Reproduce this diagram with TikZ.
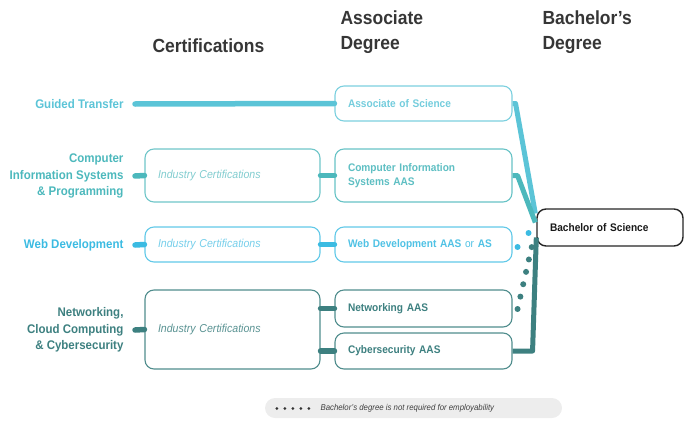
\documentclass[tikz,border=0pt]{standalone}
\usepackage{fontspec}
\setmainfont{Liberation Sans}[FakeStretch=0.92]
\usepackage{tikz}
\usetikzlibrary{calc}
\definecolor{headgray}{HTML}{363636}
\definecolor{gtblue}{HTML}{5BC4D7}
\definecolor{cisteal}{HTML}{4CB8BC}
\definecolor{webblue}{HTML}{3BBBE2}
\definecolor{netteal}{HTML}{3D8080}

\begin{document}
\begin{tikzpicture}[x=1pt, y=-1pt,
  head/.style={anchor=west, align=left, text=headgray, font=\bfseries\fontsize{19}{25}\selectfont},
  lab/.style={anchor=east, align=right, font=\bfseries\fontsize{12.5}{16.5}\selectfont},
  box/.style={draw, line width=1.1pt, rounded corners=9pt, fill=white, text width=151pt, inner xsep=13pt, align=left, font=\bfseries\fontsize{11}{14}\selectfont},
  cert/.style={box, text width=149pt, font=\itshape\fontsize{11.5}{14}\selectfont},
  link/.style={line width=5.5pt, line cap=round, line join=round},
  joint/.style={line width=5pt, line join=round},
  dots/.style={line width=6pt, line cap=round, dash pattern=on 0pt off 12.7pt}]
\useasboundingbox (0,0) rectangle (684,420);

% column heads
\node[head] (certhead) at (149,46) {Certifications};
\node[head] (assochead) at (337,32.5) {Associate\\Degree};
\node[head] (bachhead) at (539,32.5) {Bachelor's\\Degree};

% pathways
\node[lab, text=gtblue] (gt) at (127,104) {Guided Transfer};
\node[lab, text=cisteal] (cis) at (127,176) {Computer\\Information Systems\\\& Programming};
\node[lab, text=webblue] (web) at (127,245) {Web Development};
\node[lab, text=netteal] (netw) at (127,330) {Networking,\\Cloud Computing\\\& Cybersecurity};

% certifications
\node[cert, draw=cisteal!80, text=cisteal!70, minimum height=53pt] (cert1) at (232.5,175.5) {Industry Certifications};
\node[cert, draw=webblue!80, text=webblue!70, minimum height=35pt] (cert2) at (232.5,244.5) {Industry Certifications};
\node[cert, draw=netteal!90, text=netteal!85, minimum height=79pt] (cert3) at (232.5,329.5) {Industry Certifications};

% associate degrees
\node[box, draw=gtblue!80, text=gtblue!85, minimum height=35pt] (as) at (423.5,103.5) {Associate of Science};
\node[box, draw=cisteal!85, text=cisteal!90, minimum height=53pt] (cisaas) at (423.5,175.5) {Computer Information\\Systems AAS};
\node[box, draw=webblue!80, text=webblue!90, minimum height=35pt] (webaas) at (423.5,244.5) {Web Development AAS {\mdseries or} AS};
\node[box, draw=netteal!90, text=netteal, minimum height=37pt] (netaas) at (423.5,308.5) {Networking AAS};
\node[box, draw=netteal!90, text=netteal, minimum height=36pt] (cyber) at (423.5,351) {Cybersecurity AAS};

% bachelor
\node[box, draw=black!85, text=black!90, line width=1.4pt, text width=120pt, minimum height=37pt] (bos) at (610,227.5) {Bachelor of Science};

\draw[link, gtblue] ($(gt.east)+(8,0)$) -- (as.west);
\draw[link, cisteal] ($(cis.east)+(8,0)$) -- (cert1.west);
\draw[link, cisteal] (cert1.east) -- (cisaas.west);
\draw[link, webblue] ($(web.east)+(8,0)$) -- (cert2.west);
\draw[link, webblue] (cert2.east) -- (webaas.west);
\draw[link, netteal] ($(netw.east)+(8,0)$) -- (cert3.west);
\draw[link, netteal] (cert3.east |- netaas.west) -- (netaas.west);
\draw[link, netteal] (cert3.east |- cyber.west) -- (cyber.west);

\draw[joint, gtblue] (as.east) -- ++(3,0) -- ($(bos.west)+(-1,-14)$);
\draw[joint, cisteal] (cisaas.east) -- ++(5,0) -- ($(bos.west)+(-1,-5)$);
\draw[joint, netteal] (cyber.east) -- ++(20,0) -- ($(bos.west)+(0,10)$);
\draw[dots, webblue, dash pattern=on 0pt off 17.8pt] ($(webaas.east)+(5,2.5)$) -- ++(11.3,-14.4);
\draw[dots, netteal] ($(netaas.east)+(5,0.5)$) -- ++(14.3,-62.5);

% note
\node[fill=black!7, rounded corners=10pt, minimum width=297pt, minimum height=20pt] (foot) at (413.5,408) {};
\node[anchor=west, text=black!75, font=\itshape\fontsize{8.5}{10}\selectfont] (note) at (317,408.5) {Bachelor's degree is not required for employability};
\draw[black!80, line width=3pt, line cap=round, dash pattern=on 0pt off 8pt] ($(foot.west)+(12,0.5)$) -- ++(33,0);
\end{tikzpicture}
\end{document}
